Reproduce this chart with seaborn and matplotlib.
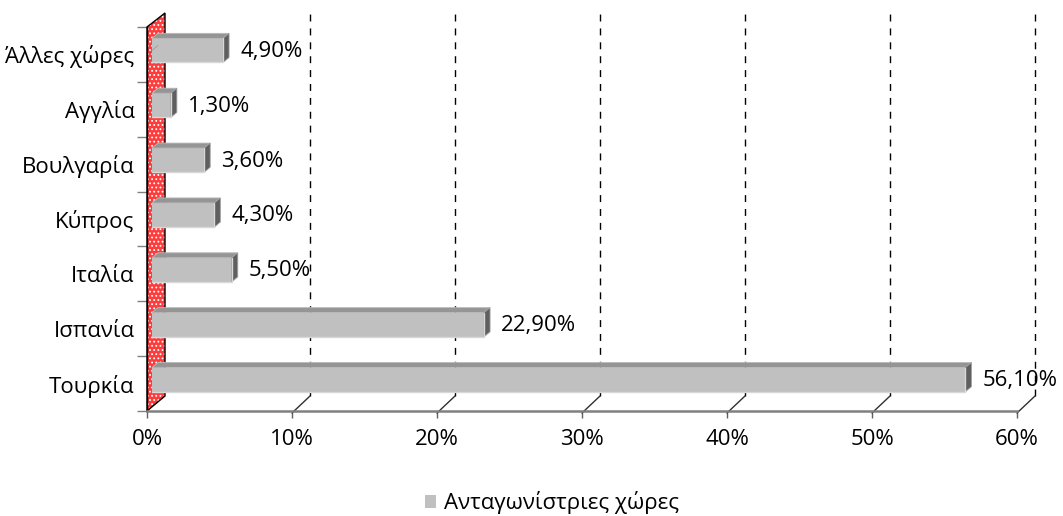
import numpy as np
import pandas as pd
import matplotlib
matplotlib.use("Agg")
import matplotlib.pyplot as plt
import seaborn as sns
from matplotlib.patches import Polygon
from matplotlib.lines import Line2D
from matplotlib.transforms import ScaledTranslation, IdentityTransform

# ---- data ----
categories = ["Άλλες χώρες", "Αγγλία", "Βουλγαρία", "Κύπρος", "Ιταλία", "Ισπανία", "Τουρκία"]
values = [4.9, 1.3, 3.6, 4.3, 5.5, 22.9, 56.1]
value_labels = ["4,90%", "1,30%", "3,60%", "4,30%", "5,50%", "22,90%", "56,10%"]
xticks = [0, 10, 20, 30, 40, 50, 60]
xtick_labels = ["0%", "10%", "20%", "30%", "40%", "50%", "60%"]
series_name = "Ανταγωνίστριες χώρες"

sns.set_theme(style="white")
plt.rcParams["font.family"] = ["Open Sans", "DejaVu Sans"]
plt.rcParams["text.color"] = "black"
plt.rcParams["xtick.labelcolor"] = "black"
plt.rcParams["ytick.labelcolor"] = "black"
plt.rcParams["hatch.linewidth"] = 0.8

W, H = 1063, 516
FS = 16
fig = plt.figure(figsize=(W / 100, H / 100), dpi=100)
fig.patch.set_facecolor("white")
ax = fig.add_axes([147 / W, (H - 411) / H, (1017 - 147) / W, (411 - 27) / H])
ax.set_facecolor("none")

df = pd.DataFrame({"country": categories, "value": values, "series": series_name})
sns.barplot(data=df, x="value", y="country", hue="series", palette=["#c0c0c0"],
            orient="h", width=0.44, saturation=1, linewidth=0, ax=ax, zorder=3)
bars = list(ax.patches)

ax.set_xlim(0, 60)
ax.set_ylim(len(categories) - 0.5, -0.5)
ax.set_xlabel("")
ax.set_ylabel("")

for s in ["top", "right"]:
    ax.spines[s].set_visible(False)
ax.spines["left"].set_color("black")
ax.spines["left"].set_linewidth(1)
ax.spines["bottom"].set_color("#808080")
ax.spines["bottom"].set_linewidth(1.8)

ax.set_xticks(xticks)
ax.set_xticklabels(xtick_labels)
ax.tick_params(axis="x", length=5, width=1, color="#606060", pad=8, labelsize=FS,
               bottom=True, labelcolor="black")
ax.set_yticks(range(len(categories)))
ax.set_yticklabels(categories)
ax.tick_params(axis="y", which="major", length=0, pad=9, labelsize=FS, left=True,
               labelcolor="black")
ax.set_yticks(np.arange(-0.5, len(categories), 1), minor=True)
ax.tick_params(axis="y", which="minor", length=7, width=1, color="#808080", left=True)

fig.canvas.draw()
tD = ax.transData
DX, DY = 18, 15   # depth of the 3D floor / back wall in pixels
bl = tD.transform((0, len(categories) - 0.5))
tl = tD.transform((0, -0.5))
bottom_px, top_px, x0_px = bl[1], tl[1], bl[0]

# back-wall dashed gridlines + floor diagonals
for v in xticks[1:]:
    xp = tD.transform((v, 0))[0]
    ax.add_line(Line2D([xp + DX, xp + DX], [bottom_px + DY, top_px + DY - 1],
                       transform=IdentityTransform(), color="black", lw=1,
                       ls=(0, (5, 5)), clip_on=False, zorder=1))
    ax.add_line(Line2D([xp, xp + DX], [bottom_px - 2, bottom_px + DY],
                       transform=IdentityTransform(), color="#303030", lw=1,
                       clip_on=False, zorder=1))

# red side wall
wall = [(x0_px, bottom_px), (x0_px, top_px), (x0_px + DX, top_px + DY - 1), (x0_px + DX, bottom_px + DY)]
ax.add_patch(Polygon(wall, closed=True, transform=IdentityTransform(), facecolor="#ff3c3c",
                     edgecolor="white", hatch="....", lw=0, clip_on=False, zorder=2))
ax.add_patch(Polygon(wall, closed=True, transform=IdentityTransform(), facecolor="none",
                     edgecolor="black", lw=1, clip_on=False, zorder=2.5))

# 3D bars: shift front face, add top and end faces
BX, BY = 5, 4      # front face offset
TX, TY = 6, 5      # bar depth
off = ScaledTranslation(BX / 100, BY / 100, fig.dpi_scale_trans)
for p in bars:
    x, y, w, h = p.get_x(), p.get_y(), p.get_width(), p.get_height()
    p.set_transform(tD + off)
    p.set_clip_on(False)
    xl, yb = tD.transform((x, y + h))
    xr, yt = tD.transform((x + w, y))
    xl, xr, yb, yt = xl + BX, xr + BX, yb + BY, yt + BY
    top = [(xl, yt), (xr, yt), (xr + TX, yt + TY), (xl + TX, yt + TY)]
    end = [(xr, yb), (xr, yt), (xr + TX, yt + TY), (xr + TX, yb + TY)]
    ax.add_patch(Polygon(top, closed=True, transform=IdentityTransform(), facecolor="#959595",
                         edgecolor="#b8b8b8", lw=0.6, clip_on=False, zorder=3.1))
    ax.add_patch(Polygon(end, closed=True, transform=IdentityTransform(), facecolor="#5f5f5f",
                         edgecolor="#a0a0a0", lw=0.6, clip_on=False, zorder=3.1))
    ax.add_line(Line2D([xl, xr, xr], [yb, yb, yt], transform=IdentityTransform(),
                       color="#d8d8d8", lw=1, clip_on=False, zorder=3.2))

# value labels
for p, lbl in zip(bars, value_labels):
    ax.annotate(lbl, xy=(p.get_x() + p.get_width(), p.get_y() + p.get_height() / 2),
                xytext=(BX + 17, BY - 1), textcoords="offset pixels",
                ha="left", va="center", fontsize=FS, color="black", zorder=5)

sns.move_legend(ax, "center", bbox_to_anchor=(552 / W, 13 / H), bbox_transform=fig.transFigure,
                frameon=False, title=None, fontsize=FS, handlelength=0.5, handleheight=0.5,
                handletextpad=0.4, labelcolor="black")

fig.savefig("out.png", dpi=100, facecolor="white")
